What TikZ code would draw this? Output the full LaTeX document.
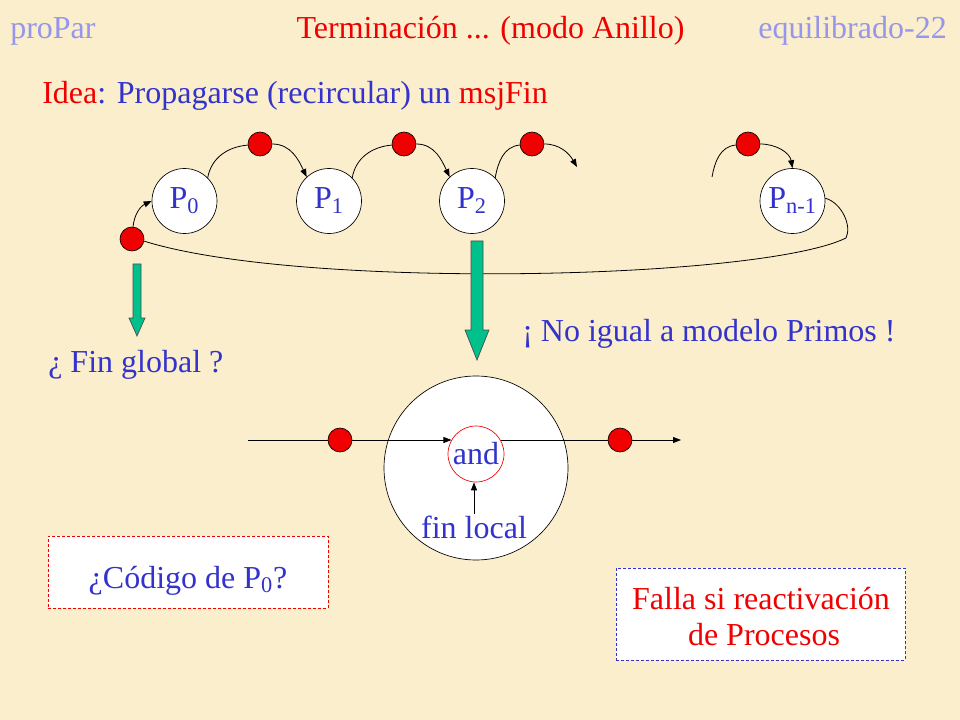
\documentclass[tikz,border=0pt]{standalone}
\usepackage{fontspec}
\setmainfont{Liberation Serif}
\usetikzlibrary{arrows.meta,shapes.geometric}
\definecolor{bg}{RGB}{250,238,204}
\definecolor{txtblue}{RGB}{51,51,204}
\definecolor{hdrblue}{RGB}{150,150,235}
\definecolor{myred}{RGB}{240,0,0}
\definecolor{arrowgreen}{RGB}{0,192,140}
\begin{document}
\begin{tikzpicture}[x=0.75pt,y=0.75pt,
  proc/.style={circle, draw=black, fill=white, minimum size=48.75pt, inner sep=0pt, line width=0.5pt, text=txtblue, font=\fontsize{24}{27}\selectfont},
  token/.style={circle, draw=black, fill=myred, minimum size=18pt, inner sep=0pt, line width=0.5pt},
  lbl/.style={font=\fontsize{24}{27}\selectfont, text=txtblue, anchor=base, inner sep=0pt},
  flow/.style={-{Triangle[length=6pt,width=4.5pt]}, line width=0.6pt},
  conn/.style={line width=0.6pt},
  greenarrow/.style={fill=arrowgreen, draw=black!70, line width=0.5pt},
  boxr/.style={rectangle, draw=myred, fill=white, dash pattern=on 2.25pt off 1.5pt, line width=0.6pt, minimum width=210pt, minimum height=54pt, inner sep=0pt},
  boxb/.style={rectangle, draw=txtblue, fill=white, dash pattern=on 2.25pt off 1.5pt, line width=0.6pt, minimum width=216.75pt, minimum height=69pt, inner sep=0pt},
]
\path[fill=bg] (0,0) rectangle (960,-720);
\useasboundingbox (0,0) rectangle (960,-720);

% header
\node[lbl, anchor=base west, text=hdrblue] (hl) at (10,-39) {proPar};
\node[lbl, text=myred] (ht) at (490.5,-39) {Terminación ... (modo Anillo)};
\node[lbl, anchor=base east, text=hdrblue] (hr) at (947,-39) {equilibrado-22};
\node[lbl, anchor=base west] (idea) at (42,-104) {\textcolor{myred}{Idea}: Propagarse (recircular) un \textcolor{myred}{msjFin}};

% ring
\node[proc] (P0) at (184.5,-201) {P\textsubscript{0}};
\node[proc] (P1) at (329,-201) {P\textsubscript{1}};
\node[proc] (P2) at (472,-201) {P\textsubscript{2}};
\node[proc] (Pn) at (792.5,-201) {P\textsubscript{n-1}};

\node[token] (t1) at (260,-144) {};
\node[token] (t2) at (404,-144) {};
\node[token] (t3) at (532,-144) {};
\node[token] (t4) at (748,-144) {};
\node[token] (t0) at (132,-239) {};

\coordinate (e3) at (577,-167);
\coordinate (s4) at (712,-177);

\draw[conn] (P0.45) to[out=80,in=185] (t1);
\draw[flow] (t1) to[out=0,in=115] (P1.133);
\draw[conn] (P1.45) to[out=80,in=185] (t2);
\draw[flow] (t2) to[out=0,in=115] (P2.133);
\draw[conn] (P2.45) to[out=80,in=185] (t3);
\draw[flow] (t3) to[out=0,in=120] (e3);
\draw[conn] (s4) to[out=80,in=185] (t4);
\draw[flow] (t4) to[out=0,in=100] (Pn.north);
\draw[conn] (Pn.5) .. controls (842,-203) and (852,-226) .. (846,-238)
   .. controls (760,-280) and (300,-290) .. (t0.-10);
\draw[flow] (t0) to[out=85,in=205] (P0.west);

% green arrows
\draw[greenarrow] (133,-264) -- (141,-264) -- (141,-318) -- (145,-318) -- (137,-336) -- (129,-318) -- (133,-318) -- cycle;
\draw[greenarrow] (471,-241) -- (483,-241) -- (483,-330) -- (489,-330) -- (477,-360) -- (465,-330) -- (471,-330) -- cycle;

\node[lbl, anchor=base west] (fg) at (48,-372) {¿ Fin global ?};
\node[lbl, anchor=base west] (ni) at (522,-341) {¡ No igual a modelo Primos !};

% process detail
\node[circle, draw=black, fill=white, minimum size=138pt, line width=0.5pt] (bigc) at (476,-468) {};
\node[circle, draw=myred, line width=0.5pt, minimum size=42pt, inner sep=0pt, text=txtblue, font=\fontsize{24}{27}\selectfont] (andn) at (476,-454) {\makebox[0pt]{and}};
\node[token] (b1) at (340,-440) {};
\node[token] (b2) at (620,-440) {};
\coordinate (lin) at (248,-440);
\coordinate (lout) at (681,-440);
\draw[conn] (lin) -- (b1);
\draw[flow] (b1) -- (b1 -| andn.150);
\draw[conn] (b2 -| andn.30) -- (b2);
\draw[flow] (b2) -- (lout);
\node[lbl] (fl) at (474,-538) {fin local};
\draw[flow] ([yshift=1pt]fl.north) -- (fl.north |- andn.south);

% boxes
\node[boxr] (codbox) at (188,-572) {};
\node[lbl] (codtxt) at (188,-588) {¿Código de P\textsubscript{0}?};
\node[boxb] (fallabox) at (760.5,-614) {};
\node[lbl, text=myred] (falla1) at (761,-609) {Falla si reactivación};
\node[lbl, text=myred] (falla2) at (764,-645) {de Procesos};
\end{tikzpicture}
\end{document}
